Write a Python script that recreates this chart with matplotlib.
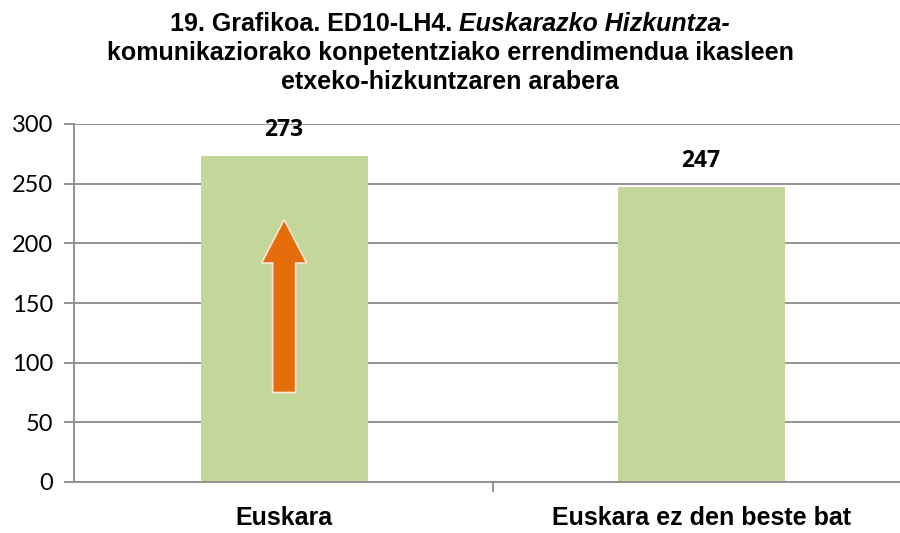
import matplotlib.pyplot as plt
from matplotlib.patches import FancyArrow

# datuak
categories = ['Euskara', 'Euskara ez den beste bat']
values = [273, 247]
yticks = [0, 50, 100, 150, 200, 250, 300]

title_plain = '19. Grafikoa. ED10-LH4. '
title_italic = 'Euskarazko Hizkuntza-'
title_line2 = 'komunikaziorako konpetentziako errendimendua ikasleen'
title_line3 = 'etxeko-hizkuntzaren arabera'

bar_color = '#C4D79B'
grid_color = '#8C8C8C'
arrow_color = '#E46C0A'

fig = plt.figure(figsize=(9, 5.33), dpi=100)
ax = fig.add_axes([74 / 900, 51 / 533, 1 - 74 / 900, 358 / 533])

x = list(range(len(categories)))
ax.bar(x, values, width=0.4, color=bar_color, zorder=2)

ax.set_ylim(0, 300)
ax.set_xlim(-0.504, 1.477)
ax.set_yticks(yticks)
ax.yaxis.grid(True, color=grid_color, linewidth=1.3, zorder=0)
ax.set_axisbelow(True)

for s in ['top', 'right']:
    ax.spines[s].set_visible(False)
for s in ['left', 'bottom']:
    ax.spines[s].set_color(grid_color)
    ax.spines[s].set_linewidth(1.3)

ax.tick_params(axis='y', length=7, width=1.3, color=grid_color, pad=8,
               labelsize=17, labelcolor='black')
for lbl in ax.get_yticklabels():
    lbl.set_fontfamily('Lato')

# erdiko tick-a kategorien artean, etiketak minor tick-etan
ax.set_xticks([0.5])
ax.set_xticklabels([''])
ax.tick_params(axis='x', which='major', length=7, width=1.3, color=grid_color)
ax.set_xticks(x, minor=True)
ax.set_xticklabels(categories, minor=True, fontsize=18, fontweight='bold',
                   fontfamily='Liberation Sans')
ax.tick_params(axis='x', which='minor', length=0, pad=17)

# balioak barren gainean
for xi, v in zip(x, values):
    ax.annotate(str(v), (xi, v), xytext=(0, 19), textcoords='offset points',
                ha='center', va='center', fontsize=16.5, fontweight='bold',
                fontfamily='Open Sans')

# gezi laranja
arrow = FancyArrow(0, 75, 0, 145, width=0.055, head_width=0.108,
                   head_length=36.5, length_includes_head=True,
                   facecolor=arrow_color, edgecolor='#FBE5D6', linewidth=1.2,
                   zorder=3)
ax.add_patch(arrow)

# izenburua: lehen lerroa zati lodi + etzanarekin
fig.canvas.draw()
r = fig.canvas.get_renderer()
tfont = dict(fontsize=18, fontweight='bold', fontfamily='Liberation Sans')
t1 = fig.text(0, 0, title_plain, **tfont)
t2 = fig.text(0, 0, title_italic, style='italic', **tfont)
w1 = t1.get_window_extent(r).width
w2 = t2.get_window_extent(r).width
x0 = 450 - (w1 + w2) / 2
y1 = 1 - 24 / 533
t1.set_position((x0 / 900, y1))
t1.set_va('center')
t2.set_position(((x0 + w1) / 900, y1))
t2.set_va('center')
fig.text(0.5, 1 - 53 / 533, title_line2, ha='center', va='center', **tfont)
fig.text(0.5, 1 - 82 / 533, title_line3, ha='center', va='center', **tfont)

fig.savefig('out.png', dpi=100)
